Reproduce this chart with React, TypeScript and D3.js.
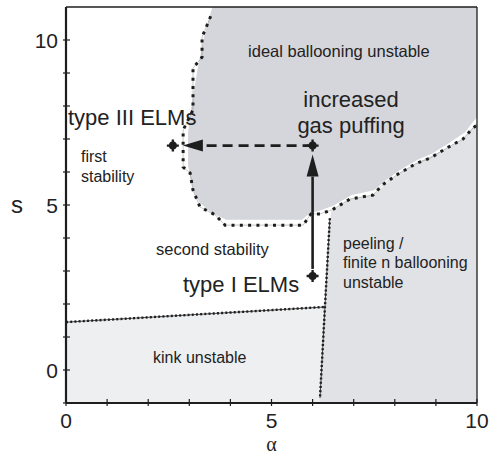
import React from "react";
import * as d3 from "d3";

// Stability diagram in the (alpha, s) plane
const xTicks = [0, 5, 10];
const yTicks = [0, 5, 10];
const xMinor = [0, 1, 2, 3, 4, 5, 6, 7, 8, 9, 10];
const yMinor = [-1, 0, 1, 2, 3, 4, 5, 6, 7, 8, 9, 10];

// dotted ideal-ballooning boundary [alpha, s]
const ballooningEdge: [number, number][] = [
  [3.52, 10.72], [3.4, 10.35], [3.31, 10.09], [3.31, 9.48], [3.09, 9.15],
  [3.09, 7.88], [2.85, 7.27], [2.85, 6.15], [3.02, 5.97], [3.09, 5.45],
  [3.26, 4.94], [3.63, 4.7], [3.87, 4.39], [5.77, 4.39], [5.96, 4.73],
  [6.18, 4.73], [6.47, 4.85], [6.91, 5.18], [7.47, 5.3], [7.69, 5.6],
  [8.08, 5.94], [8.54, 6.27], [8.86, 6.42], [9.27, 6.73], [9.66, 7.0],
  [9.9, 7.33], [10, 7.42],
];

// shaded ideal-ballooning unstable region
const ballooningFill: [number, number][] = [
  [3.56, 11], [3.36, 10.1], [3.2, 9.1], [3.05, 8.0], [2.97, 7.2],
  [2.97, 6.2], [3.05, 5.7], [3.14, 5.3], [3.26, 5.06], [3.55, 4.76],
  [3.9, 4.55], [5.74, 4.55], [5.94, 4.76], [6.2, 4.84], [6.5, 4.98],
  [6.95, 5.3], [7.5, 5.45], [7.75, 5.72], [8.1, 6.04], [8.55, 6.37],
  [8.9, 6.55], [9.3, 6.86], [9.7, 7.2], [10, 7.67], [10, 11],
];

// kink boundary and peeling boundary
const kinkEdge: [number, number][] = [[0, 1.45], [6.3, 1.91]];
const peelingEdge: [number, number][] = [[6.42, 4.6], [6.3, 1.91], [6.18, -0.85]];

const kinkFill: [number, number][] = [[0, -1], [0, 1.45], [6.3, 1.91], [6.18, -0.85], [6.17, -1]];
const peelingFill: [number, number][] = [
  [6.45, 4.8], [6.3, 1.91], [6.17, -1], [10, -1], [10, 7.5],
  [9.66, 7.0], [9.27, 6.73], [8.54, 6.27], [8.08, 5.94], [7.47, 5.3], [6.91, 5.18],
];

// operating points
const typeIII: [number, number] = [2.6, 6.8];
const gasPuff: [number, number] = [6.0, 6.8];
const typeI: [number, number] = [6.0, 2.85];

const W = 490;
const H = 456;
const FONT = "'Liberation Sans', Arial, Helvetica, sans-serif";
const INK = "#1e1e1e";

export default function App() {
  const x = d3.scaleLinear().domain([0, 10]).range([66, 477]);
  const y = d3.scaleLinear().domain([-1, 11]).range([403, 7]);
  const line = d3.line<[number, number]>().x((d) => x(d[0])).y((d) => y(d[1]));
  const poly = (pts: [number, number][]) => line(pts) + "Z";

  const marker = (p: [number, number], key: string) => {
    const cx = x(p[0]);
    const cy = y(p[1]);
    return (
      <g key={key}>
        <circle cx={cx} cy={cy} r={4} fill={INK} />
        <path d={`M${cx - 6},${cy}H${cx + 6}M${cx},${cy - 6}V${cy + 6}`} stroke={INK} strokeWidth={2.4} />
      </g>
    );
  };

  // horizontal arrow: gas puff point -> type III point
  const hy = y(gasPuff[1]);
  const hTip = x(typeIII[0]) + 10;
  const hBase = hTip + 20;
  // vertical arrow: type I point -> gas puff point
  const vx = x(typeI[0]);
  const vTip = y(gasPuff[1]) + 9;
  const vBase = vTip + 22;
  const vStart = y(typeI[1]) - 7;

  return (
    <div style={{ position: "fixed", left: 0, top: 0 }}>
      <svg width={W} height={H} style={{ display: "block", background: "#fff" }} fontFamily={FONT}>
        {/* regions */}
        <path d={poly(kinkFill)} fill="#eeeff1" />
        <path d={poly(peelingFill)} fill="#e1e2e6" />
        <path d={poly(ballooningFill)} fill="#d5d6db" />

        {/* boundaries */}
        <path d={line(ballooningEdge)!} fill="none" stroke="#444" strokeWidth={0.6} opacity={0.5} />
        <path d={line(ballooningEdge)!} fill="none" stroke={INK} strokeWidth={3} strokeDasharray="3 5.3" />
        {[kinkEdge, peelingEdge].map((e, i) => (
          <g key={i}>
            <path d={line(e)!} fill="none" stroke={INK} strokeWidth={0.8} />
            <path d={line(e)!} fill="none" stroke={INK} strokeWidth={2.4} strokeDasharray="2 2.2" />
          </g>
        ))}

        {/* frame */}
        <line x1={x(0)} x2={x(10)} y1={y(11)} y2={y(11)} stroke={INK} strokeWidth={1.3} />
        <line x1={x(10)} x2={x(10)} y1={y(11)} y2={y(-1)} stroke={INK} strokeWidth={1.3} />
        <line x1={x(0)} x2={x(10)} y1={y(-1)} y2={y(-1)} stroke={INK} strokeWidth={2} />
        <line x1={x(0)} x2={x(0)} y1={y(11)} y2={y(-1)} stroke={INK} strokeWidth={2.2} />

        {/* ticks */}
        {xMinor.map((t) => (
          <line key={"xt" + t} x1={x(t)} x2={x(t)} y1={y(-1) - 4} y2={y(-1) + 3} stroke={INK} strokeWidth={1.2} />
        ))}
        {yMinor.map((t) => (
          <line key={"yt" + t} x1={x(0) - 3} x2={x(0) + 4} y1={y(t)} y2={y(t)} stroke={INK} strokeWidth={1.2} />
        ))}
        {xTicks.map((t) => (
          <text key={"xl" + t} x={x(t)} y={y(-1) + 25} textAnchor="middle" fontSize={21} fill="#222">
            {t}
          </text>
        ))}
        {yTicks.map((t) => (
          <text key={"yl" + t} x={x(0) - 8} y={y(t) + 7.5} textAnchor="end" fontSize={21} fill="#222">
            {t}
          </text>
        ))}
        <text x={17} y={y(5) + 8} textAnchor="middle" fontSize={24} fill="#222">s</text>
        <text x={x(5)} y={451} textAnchor="middle" fontSize={20} fill="#222" fontFamily="'Liberation Serif', 'DejaVu Serif', serif">α</text>

        {/* arrows */}
        <line x1={x(gasPuff[0])} x2={hBase} y1={hy} y2={hy} stroke={INK} strokeWidth={2.6} strokeDasharray="10 6" />
        <path d={`M${hTip},${hy}L${hBase},${hy - 6}L${hBase},${hy + 6}Z`} fill={INK} />
        <line x1={vx} x2={vx} y1={vStart} y2={vBase} stroke={INK} strokeWidth={2.6} />
        <path d={`M${vx},${vTip}L${vx - 6},${vBase}L${vx + 6},${vBase}Z`} fill={INK} />
        {marker(typeIII, "m1")}
        {marker(gasPuff, "m2")}
        {marker(typeI, "m3")}

        {/* labels */}
        <g fill="#222">
          <text x={x(4.43)} y={57} fontSize={16.5}>ideal ballooning unstable</text>
          <text x={351} y={107} fontSize={22} textAnchor="middle">increased</text>
          <text x={351} y={133} fontSize={22} textAnchor="middle">gas puffing</text>
          <text x={68} y={125} fontSize={22}>type III ELMs</text>
          <text x={81} y={162} fontSize={16}>first</text>
          <text x={81} y={182} fontSize={16}>stability</text>
          <text x={156} y={255} fontSize={16.5}>second stability</text>
          <text x={183} y={292} fontSize={22}>type I ELMs</text>
          <text x={343} y={249} fontSize={16}>peeling /</text>
          <text x={343} y={268} fontSize={16}>finite n ballooning</text>
          <text x={343} y={288} fontSize={16}>unstable</text>
          <text x={153} y={363} fontSize={16}>kink unstable</text>
        </g>
      </svg>
    </div>
  );
}
